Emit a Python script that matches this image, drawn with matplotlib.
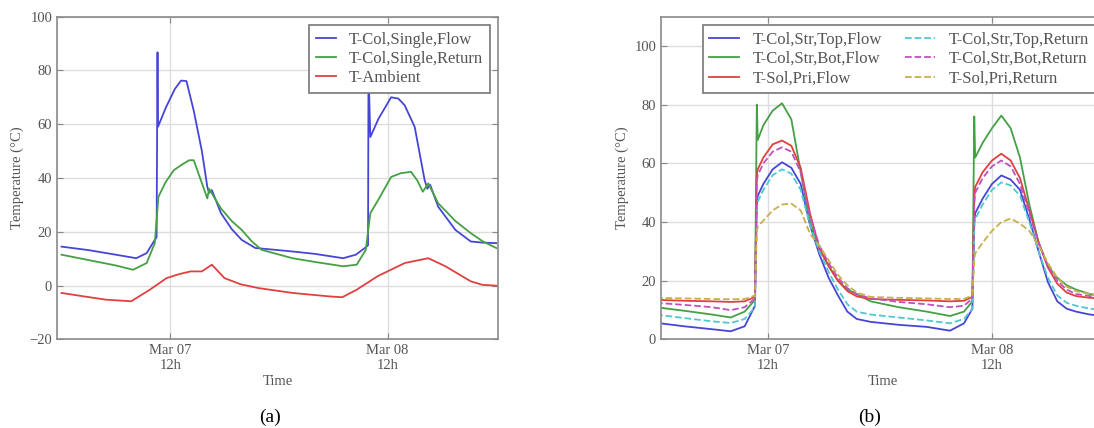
import matplotlib
matplotlib.use('Agg')
import matplotlib.pyplot as plt

plt.rcParams['font.family'] = ['Liberation Serif', 'DejaVu Serif']

# (a) single collector, hours since Mar 07 00:00
flow_h = [0, 3, 6, 8.25, 9.4, 10.3, 10.5, 10.6, 10.65, 11.5, 12.5, 13.2, 13.8, 14.6, 15.5,
          16.1, 16.3, 16.6, 17.6, 18.8, 19.9, 21.4, 23, 25.5, 28, 31.1, 32.5, 33.5, 33.85,
          33.9, 34.1, 35, 36.4, 37.2, 37.9, 39, 40.1, 40.4, 40.7, 41.6, 43.5, 45.2, 46.5, 48]
flow_t = [14.5, 13.2, 11.5, 10.2, 12.1, 17, 18, 86.7, 59, 66, 73, 76.2, 76, 65, 50,
          36.7, 34.5, 35.5, 27, 21, 17, 14, 13.5, 12.7, 11.8, 10.2, 11.5, 14, 15,
          80, 55.2, 62, 70, 69.5, 67, 59, 39.2, 36, 37.5, 29.3, 20.7, 16.4, 16, 15.8]

ret_h = [0, 3, 6, 7.9, 9.4, 10.3, 10.7, 11.5, 12.4, 13.3, 14.1, 14.6, 15.3, 16.1, 16.3,
         17.6, 18.8, 19.9, 21, 22.1, 25.5, 28, 31.1, 32.6, 33.6, 34.1, 35, 36.4, 37.5,
         38.6, 39.3, 39.9, 40.5, 41.6, 43.5, 45.2, 46.5, 48]
ret_t = [11.5, 9.5, 7.5, 5.9, 8.4, 15.8, 33, 38.5, 42.9, 45, 46.6, 46.6, 40, 32.4, 36,
         28.7, 24, 20.7, 16.5, 13.3, 10.2, 8.8, 7.2, 7.8, 13.3, 26.9, 32, 40.4, 41.8,
         42.3, 39, 34.9, 38, 30.6, 24, 19.5, 16.5, 14]

amb_h = [0, 2.5, 4.9, 7.7, 9.75, 11.6, 13, 14.25, 15.5, 16.6, 18, 19.8, 21.75, 25.5,
         29.6, 31, 32.6, 34.9, 37.9, 40.5, 42.4, 45.2, 46.5, 48]
amb_t = [-2.7, -4, -5.2, -5.8, -1.5, 2.8, 4.3, 5.3, 5.3, 7.8, 2.8, 0.5, -0.9, -2.7,
         -4, -4.3, -1.5, 3.5, 8.4, 10.2, 7.2, 1.6, 0.3, 0]

# (b) stratified collector and solar primary
hb = [0, 3, 6, 8, 9.5, 10.6, 10.8, 10.9, 11.5, 12.5, 13.5, 14.5, 15.5, 16.5, 17.5, 18.5,
      19.5, 20.5, 21.5, 23, 26, 29, 31.5, 33, 33.9, 34.1, 34.2, 35, 36, 37, 38, 39, 40,
      41, 42, 43, 44, 45, 46.5, 48]
top_flow = [5.7, 4.5, 3.5, 2.8, 4.5, 11.5, 46, 49, 53, 58, 60.4, 58.5, 53, 39, 29, 21,
            15, 9.5, 7, 6, 5, 4.3, 3, 5.5, 10.5, 40, 43, 48, 53, 55.9, 54.5, 51, 41,
            30, 19.5, 13, 10.5, 9.5, 8.5, 8]
bot_flow = [11, 9.8, 8.5, 7.5, 9.5, 13.5, 80, 68, 73, 78, 80.5, 75, 57, 40, 31, 25,
            20, 17, 15.5, 13, 11, 9.5, 8, 9.5, 13, 76, 62, 67, 72, 76.3, 72, 62, 46,
            33, 25, 21, 18.5, 17, 15.5, 14.5]
sol_flow = [13.5, 13.2, 13, 12.8, 13, 14.5, 56, 58, 62, 66.5, 67.8, 66, 58.5, 43, 31, 25,
            20, 16.5, 14.7, 13.8, 13.5, 13.3, 13, 13.2, 14.5, 48, 52, 57, 61, 63.3, 61, 55,
            44, 33, 24.5, 19, 16, 14.8, 14.2, 14]
top_ret = [8.5, 7.3, 6.2, 5.6, 7, 11, 44, 47, 51, 56, 58, 56.5, 51, 39, 30, 23,
           17, 12, 9.5, 8.5, 7.5, 6.5, 5.5, 7, 10.5, 38, 41, 46, 51, 53.5, 52.5, 49, 40,
           30, 21, 15, 12.5, 11.5, 10.5, 10]
bot_ret = [12.5, 11.8, 11, 10, 11, 14, 54, 56, 60, 64, 65.5, 64, 57, 42, 32, 26,
           21, 17.5, 15.5, 14, 12.8, 12, 11, 11.5, 14, 46, 50, 55, 59, 61, 59, 53, 43,
           33, 25, 20, 17, 15.5, 14.8, 14.5]
sol_ret = [14.2, 14, 13.8, 13.7, 13.8, 15, 37, 38.4, 40.5, 44, 46, 46.3, 44, 36, 32, 27,
           22, 18.5, 16, 14.5, 14.2, 14, 13.8, 13.8, 15, 27, 29.4, 33, 37, 40, 41.2, 39.5,
           37, 32, 26, 21, 18, 16.5, 15.5, 15]

tick_pos = [12, 36]
tick_lab = ['Mar 07\n12h', 'Mar 08\n12h']

txt = '#555555'
fs = 10.5

fig = plt.figure(figsize=(10.94, 4.28), dpi=100)
ax1 = fig.add_axes([0.0521, 0.2068, 0.4031, 0.7546])
ax2 = fig.add_axes([0.6042, 0.2068, 0.4049, 0.7542])


def style(ax, yt):
    ax.set_xticks(tick_pos)
    ax.set_xticklabels(tick_lab)
    ax.set_yticks(yt)
    ax.grid(True, color='#dddddd', lw=1)
    ax.set_axisbelow(True)
    ax.tick_params(direction='in', top=True, right=True, labelsize=fs,
                   colors='#888888', labelcolor=txt, length=4)
    for s in ax.spines.values():
        s.set_color('#8a8a8a')
        s.set_linewidth(1.2)
    ax.set_xlabel('Time', fontsize=fs, color=txt, labelpad=2)
    ax.set_ylabel('Temperature (°C)', fontsize=fs, color=txt)


def style_legend(leg):
    leg.get_frame().set_edgecolor('#777777')
    leg.get_frame().set_linewidth(1.2)
    for t in leg.get_texts():
        t.set_color(txt)


ax1.plot(flow_h, flow_t, color='#4646d6', lw=1.3, label='T-Col,Single,Flow')
ax1.plot(ret_h, ret_t, color='#45a045', lw=1.3, label='T-Col,Single,Return')
ax1.plot(amb_h, amb_t, color='#e04040', lw=1.3, label='T-Ambient')
ax1.set_xlim(-0.5, 48.2)
ax1.set_ylim(-20, 100)
style(ax1, [-20, 0, 20, 40, 60, 80, 100])
leg = ax1.legend(loc='upper right', fontsize=12, fancybox=False, handlelength=1.2,
                 borderaxespad=0.5, labelspacing=0.2, framealpha=1)
style_legend(leg)

ax2.plot(hb, top_flow, color='#4646d6', lw=1.3, label='T-Col,Str,Top,Flow')
ax2.plot(hb, bot_flow, color='#45a045', lw=1.3, label='T-Col,Str,Bot,Flow')
ax2.plot(hb, sol_flow, color='#e04040', lw=1.3, label='T-Sol,Pri,Flow')
ax2.plot(hb, top_ret, color='#50c8d0', lw=1.3, ls='--', label='T-Col,Str,Top,Return')
ax2.plot(hb, bot_ret, color='#c050c0', lw=1.3, ls='--', label='T-Col,Str,Bot,Return')
ax2.plot(hb, sol_ret, color='#c8b048', lw=1.3, ls='--', label='T-Sol,Pri,Return')
ax2.set_xlim(0.53, 48.0)
ax2.set_ylim(0, 110)
style(ax2, [0, 20, 40, 60, 80, 100])
leg2 = ax2.legend(loc='upper right', ncol=2, fontsize=12, fancybox=False, handlelength=1.8,
                  borderaxespad=0.5, labelspacing=0.2, columnspacing=1.4, framealpha=1)
style_legend(leg2)

fig.text(270 / 1094, 1 - 417 / 428, '(a)', fontsize=14, ha='center', va='center')
fig.text(870 / 1094, 1 - 417 / 428, '(b)', fontsize=14, ha='center', va='center')

fig.savefig('out.png', dpi=100)
